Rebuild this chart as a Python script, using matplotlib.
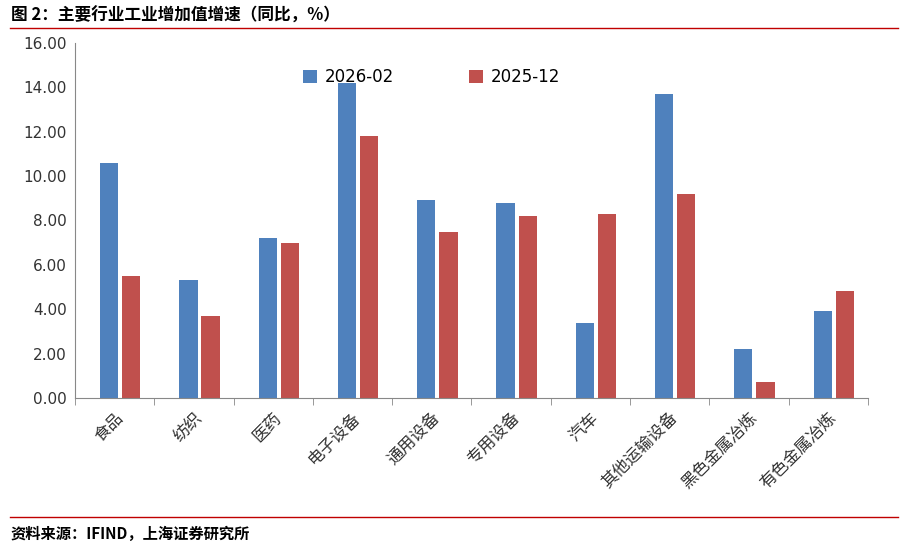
import matplotlib
matplotlib.use("Agg")
import matplotlib.pyplot as plt
import numpy as np

plt.rcParams['font.family'] = ['Noto Sans CJK SC', 'DejaVu Sans']

categories = ["食品", "纺织", "医药", "电子设备", "通用设备", "专用设备", "汽车", "其他运输设备", "黑色金属冶炼", "有色金属冶炼"]
s2026 = [10.6, 5.3, 7.2, 14.2, 8.9, 8.8, 3.4, 13.7, 2.2, 3.9]
s2025 = [5.5, 3.7, 7.0, 11.8, 7.5, 8.2, 8.3, 9.2, 0.7, 4.8]
yticks = [0, 2, 4, 6, 8, 10, 12, 14, 16]

fig = plt.figure(figsize=(9.04, 5.49), dpi=100)
ax = fig.add_axes([0.083, 0.275, 0.877, 0.647])
x = np.arange(len(categories))
w = 0.23
ax.bar(x - 0.07, s2026, w, color="#4F81BD", label="2026-02")
ax.bar(x + 0.21, s2025, w, color="#C0504D", label="2025-12")
ax.set_xlim(-0.5, len(categories) - 0.5)
ax.set_ylim(0, 16)
ax.set_yticks(yticks)
ax.set_yticklabels([f"{v:.2f}" for v in yticks], fontsize=11, color="#333333", family='DejaVu Sans')
ax.tick_params(axis='y', length=0, pad=6)
ax.set_xticks(x)
ax.set_xticklabels(categories, rotation=45, ha='right', rotation_mode='anchor', fontsize=12, color="#333333")
ax.tick_params(axis='x', length=0, pad=8)
ax.set_xticks(np.arange(-0.5, len(categories)), minor=True)
ax.tick_params(axis='x', which='minor', length=5, color="#888888")
for s in ['top', 'right']:
    ax.spines[s].set_visible(False)
ax.spines['left'].set_color("#888888")
ax.spines['bottom'].set_color("#888888")
ax.legend(loc='upper center', bbox_to_anchor=(0.45, 0.97), ncol=2, frameon=False,
          prop={'family': 'DejaVu Sans', 'size': 12}, handlelength=0.8, handleheight=0.8,
          columnspacing=4.5, handletextpad=0.5)

fig.text(0.012, 0.972, "图 2：主要行业工业增加值增速（同比，%）", fontsize=12, fontweight='bold', va='center')
fig.add_artist(plt.Line2D([0.011, 0.993], [0.949, 0.949], color="#C00000", lw=1))
fig.add_artist(plt.Line2D([0.011, 0.993], [0.058, 0.058], color="#C00000", lw=1))
fig.text(0.012, 0.028, "资料来源：IFIND，上海证券研究所", fontsize=11, fontweight='bold', style='italic', va='center')

fig.savefig("out.png", dpi=100)
